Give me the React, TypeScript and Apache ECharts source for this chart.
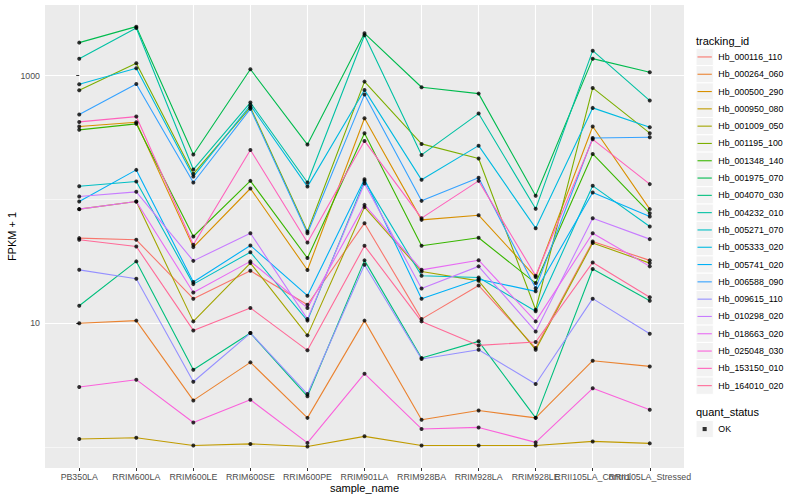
import React, { useEffect, useRef } from "react";
import * as echarts from "echarts";

const FONT = "'Liberation Sans', Arial, Helvetica, sans-serif";

const samples = [
  "PB350LA", "RRIM600LA", "RRIM600LE", "RRIM600SE", "RRIM600PE", "RRIM901LA",
  "RRIM928BA", "RRIM928LA", "RRIM928LE", "RRII105LA_Control", "RRII105LA_Stressed",
];

const trackingIds = [
  "Hb_000116_110", "Hb_000264_060", "Hb_000500_290", "Hb_000950_080", "Hb_001009_050",
  "Hb_001195_100", "Hb_001348_140", "Hb_001975_070", "Hb_004070_030", "Hb_004232_010",
  "Hb_005271_070", "Hb_005333_020", "Hb_005741_020", "Hb_006588_090", "Hb_009615_110",
  "Hb_010298_020", "Hb_018663_020", "Hb_025048_030", "Hb_153150_010", "Hb_164010_020",
];

const colors = [
  "#F8766D", "#EA8331", "#D89000", "#C09B00", "#A3A500",
  "#7CAE00", "#39B600", "#00BB4E", "#00BF7D", "#00C1A3",
  "#00BFC4", "#00BAE0", "#00B0F6", "#35A2FF", "#9590FF",
  "#C77CFF", "#E76BF3", "#FA62DB", "#FF62BC", "#FF6A98",
];

// FPKM + 1 per sample (order of `samples`)
const hb_000116_110 = [48.7, 47.2, 15.8, 26.5, 14.1, 64.3, 10.8, 20.2, 6.3, 45.8, 32.2];
const hb_000264_060 = [10.0, 10.5, 2.38, 4.83, 1.72, 10.5, 1.66, 1.97, 1.72, 4.98, 4.48];
const hb_000500_290 = [388, 420, 41.2, 122.6, 26.9, 453, 68.4, 74.6, 23.6, 388, 83.5];
const hb_000950_080 = [1.16, 1.19, 1.03, 1.06, 1.01, 1.22, 1.03, 1.03, 1.03, 1.11, 1.07];
const hb_001009_050 = [83.5, 96.2, 10.35, 30.6, 7.98, 86.7, 26.2, 22.0, 6.11, 44.4, 30.6];
const hb_001195_100 = [762, 1258, 160.9, 555, 55.1, 895, 281, 214, 12.85, 796, 343];
const hb_001348_140 = [365, 408, 50.2, 141.3, 33.6, 343, 42.2, 49.0, 21.1, 233, 77.5];
const hb_001975_070 = [1848, 2488, 231, 1126, 277.5, 2198, 806, 716, 107, 1372, 1065];
const hb_004070_030 = [13.85, 31.6, 4.21, 8.33, 2.57, 32.2, 5.24, 7.14, 1.72, 27.4, 15.2];
const hb_004232_010 = [1372, 2427, 174.4, 606, 137, 2118, 229, 494, 84.0, 1592, 629];
const hb_005271_070 = [128, 139.6, 20.7, 37.5, 10.5, 141.3, 24.2, 23.4, 12.5, 128.8, 60.5];
const hb_005333_020 = [852, 1147, 153, 577, 127, 767, 144, 272, 58.6, 549, 383];
const hb_005741_020 = [96.2, 173.3, 21.5, 42.5, 16.7, 145.7, 15.8, 22.7, 18.1, 113.8, 72.8];
const hb_006588_090 = [485, 857, 137, 539, 53.4, 703, 97.4, 150, 19.2, 314, 318];
const hb_009615_110 = [27.0, 22.9, 3.37, 8.33, 2.68, 29.7, 5.14, 6.11, 3.23, 15.8, 8.23];
const hb_010298_020 = [105.6, 115.2, 31.9, 53.4, 10.8, 134.6, 19.1, 28.8, 8.59, 70.6, 47.8];
const hb_018663_020 = [83.5, 96.2, 17.7, 31.6, 13.3, 90.4, 27.0, 32.3, 10.35, 53.4, 28.8];
const hb_025048_030 = [3.05, 3.5, 1.58, 2.41, 1.08, 3.91, 1.4, 1.44, 1.09, 2.98, 2.0];
const hb_153150_010 = [423, 467, 43.0, 251, 44.9, 297, 70.6, 141.3, 24.2, 306, 133];
const hb_164010_020 = [47.2, 41.7, 8.75, 13.3, 6.04, 42.2, 10.35, 6.62, 7.05, 31.0, 16.2];

const seriesValues = [
  hb_000116_110, hb_000264_060, hb_000500_290, hb_000950_080, hb_001009_050,
  hb_001195_100, hb_001348_140, hb_001975_070, hb_004070_030, hb_004232_010,
  hb_005271_070, hb_005333_020, hb_005741_020, hb_006588_090, hb_009615_110,
  hb_010298_020, hb_018663_020, hb_025048_030, hb_153150_010, hb_164010_020,
];

const yMajorTicks = [10, 1000];
const yMinorTicks = [1, 100];
const quantStatus = ["OK"];

const Y_MIN = 0.677;
const Y_MAX = 3722;
const X_MIN = -0.6;
const X_MAX = 10.6;

const LINE_ICON = "path://M0,0L0,0M1.5,8.1L15.8,8.1L15.8,9.2L1.5,9.2ZM17.3,17.3L17.3,17.3";
const SQ_ICON = "path://M0,0L0,0M6.6,6.6L10.7,6.6L10.7,10.7L6.6,10.7ZM17.3,17.3L17.3,17.3";

export default function App() {
  const ref = useRef<HTMLDivElement>(null);

  useEffect(() => {
    document.body.style.margin = "0";
    const chart = echarts.init(ref.current!, null, { renderer: "svg" });
    // The "RRII105LA_Control" label overlaps both neighbours (as in the reference);
    // it lives on its own axis so that ECharts does not drop any of them.
    const soloIdx = samples.indexOf("RRII105LA_Control");
    const mainIdx = samples.map((_, i) => i).filter((i) => i !== soloIdx);

    const xAxisBase = (ticks: number[]) => ({
      type: "value",
      min: X_MIN,
      max: X_MAX,
      position: "bottom",
      axisLine: { show: false },
      axisTick: { show: true, inside: false, customValues: ticks, length: 3, lineStyle: { color: "#333333", width: 1 } },
      axisLabel: {
        customValues: ticks,
        formatter: (v: number) => samples[Math.round(v)] ?? "",
        color: "#4D4D4D", fontSize: 8.8, margin: 4, fontFamily: FONT,
        hideOverlap: false, showMinLabel: true, showMaxLabel: true,
      },
      splitLine: { show: true, lineStyle: { color: "#FFFFFF", width: 1.1 } },
    });

    const lineSeries = trackingIds.map((id, s) => ({
      type: "line",
      name: id,
      data: seriesValues[s].map((v, i) => [i, v]),
      showSymbol: false,
      symbol: "none",
      lineStyle: { color: colors[s], width: 1.1 },
      itemStyle: { color: colors[s] },
      emphasis: { disabled: true },
      z: 2,
    }));

    const pointData: number[][] = [];
    seriesValues.forEach((vals) => vals.forEach((v, i) => pointData.push([i, v])));

    const keyRects = trackingIds.map((_, i) => ({
      type: "rect",
      shape: { x: 696, y: 48.3 + i * 17.3, width: 17.3, height: 17.3 },
      style: { fill: "#F2F2F2", stroke: "#FFFFFF", lineWidth: 1 },
      z: 0,
      silent: true,
    }));

    chart.setOption({
      animation: false,
      backgroundColor: "#FFFFFF",
      textStyle: { fontFamily: FONT },
      grid: {
        left: 45, right: 116, top: 5, bottom: 32,
        show: true, backgroundColor: "#EBEBEB", borderWidth: 0,
        containLabel: false, outerBoundsMode: "none",
      },
      xAxis: [
        {
          ...xAxisBase(mainIdx),
          name: "sample_name",
          nameLocation: "middle",
          nameGap: 14,
          nameMoveOverlap: false,
          nameTextStyle: { color: "#000000", fontSize: 11, fontFamily: FONT },
        },
        xAxisBase([soloIdx]),
      ],
      yAxis: [
        {
          type: "log",
          logBase: 10,
          min: Y_MIN,
          max: Y_MAX,
          axisLine: { show: false },
          axisTick: { show: true, inside: false, customValues: yMajorTicks, length: 3, lineStyle: { color: "#333333", width: 1 } },
          axisLabel: {
            customValues: yMajorTicks,
            formatter: (v: number) => String(Math.round(v)),
            color: "#4D4D4D", fontSize: 8.8, margin: 5, fontFamily: FONT,
            hideOverlap: false,
          },
          splitLine: { show: true, lineStyle: { color: "#FFFFFF", width: 1.1 } },
          name: "FPKM + 1",
          nameLocation: "middle",
          nameGap: 28,
          nameMoveOverlap: false,
          nameTextStyle: { color: "#000000", fontSize: 11, fontFamily: FONT },
        },
        {
          type: "log",
          logBase: 10,
          min: Y_MIN,
          max: Y_MAX,
          position: "left",
          axisLine: { show: false },
          axisTick: { show: false, customValues: yMinorTicks },
          axisLabel: { show: false, customValues: yMinorTicks },
          splitLine: { show: true, lineStyle: { color: "#FFFFFF", width: 0.55 } },
        },
      ],
      legend: [
        {
          orient: "vertical",
          left: 696,
          top: 48.3,
          padding: 0,
          itemWidth: 17.3,
          itemHeight: 17.3,
          itemGap: 0,
          symbolKeepAspect: false,
          selectedMode: false,
          data: trackingIds.map((id, i) => ({
            name: id,
            icon: LINE_ICON,
            itemStyle: { color: colors[i], borderWidth: 0 },
          })),
          textStyle: { color: "#000000", fontSize: 8.8, fontFamily: FONT },
        },
        {
          orient: "vertical",
          left: 696,
          top: 420.4,
          padding: 0,
          itemWidth: 17.3,
          itemHeight: 17.3,
          itemGap: 0,
          symbolKeepAspect: false,
          selectedMode: false,
          data: quantStatus.map((q) => ({ name: q, icon: SQ_ICON, itemStyle: { color: "#000000", borderWidth: 0 } })),
          textStyle: { color: "#000000", fontSize: 8.8, fontFamily: FONT },
        },
      ],
      graphic: [
        ...keyRects,
        {
          type: "rect",
          shape: { x: 696, y: 420.4, width: 17.3, height: 17.3 },
          style: { fill: "#F2F2F2", stroke: "#FFFFFF", lineWidth: 1 },
          z: 0,
          silent: true,
        },
        {
          type: "text",
          x: 696,
          y: 40.7,
          style: { text: "tracking_id", fill: "#000000", fontSize: 11, fontFamily: FONT, verticalAlign: "middle", align: "left" },
          silent: true,
        },
        {
          type: "text",
          x: 696,
          y: 412.3,
          style: { text: "quant_status", fill: "#000000", fontSize: 11, fontFamily: FONT, verticalAlign: "middle", align: "left" },
          silent: true,
        },
      ],
      series: [
        ...lineSeries,
        {
          type: "scatter",
          name: quantStatus[0],
          data: pointData,
          symbol: "circle",
          symbolSize: 4,
          itemStyle: { color: "#000000" },
          emphasis: { disabled: true },
          z: 3,
        },
      ],
    });

    return () => chart.dispose();
  }, []);

  return (
    <div
      ref={ref}
      style={{ position: "absolute", left: 0, top: 0, width: 800, height: 500 }}
    />
  );
}
